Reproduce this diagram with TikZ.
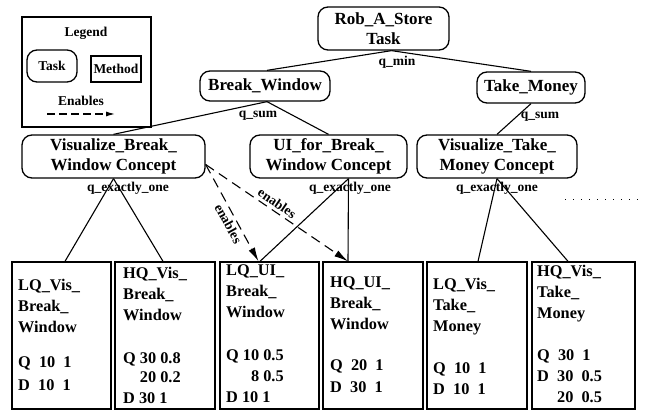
\documentclass[tikz,border=0pt]{standalone}
\usepackage{fontspec}
\setmainfont{Liberation Serif}
\usetikzlibrary{arrows.meta,calc}
\begin{document}
\begin{tikzpicture}[x=1pt,y=1pt,
  task/.style={draw, line width=1.3pt, rounded corners=10pt, align=center, inner sep=0pt,
    font=\fontsize{17}{20}\selectfont\bfseries},
  method/.style={draw, line width=1.3pt, inner sep=0pt},
  small/.style={inner sep=0pt, font=\fontsize{13.5}{15}\selectfont\bfseries},
  conn/.style={line width=1.1pt},
  enab/.style={line width=1.1pt, dash pattern=on 10pt off 6pt, -{Latex[length=14pt,width=7pt]}},
  boxtxt/.style={anchor=north west, align=left, inner sep=0pt, font=\fontsize{16.3}{21}\selectfont\bfseries}
]
\useasboundingbox (0,0) rectangle (645,-411);

% legend
\node[method, minimum width=129pt, minimum height=110pt] (legend) at (86.5,-72) {};
\node[small] (legtitle) at (86,-33) {Legend};
\node[task, font=\fontsize{13.5}{15}\selectfont\bfseries, minimum width=50pt, minimum height=32pt] (legtask) at (52,-66) {Task};
\node[method, font=\fontsize{13.5}{15}\selectfont\bfseries, minimum width=50pt, minimum height=26pt] (legmethod) at (116,-69) {Method};
\node[small] (legen) at (81,-101) {Enables};
\coordinate (la) at (47,-114);
\coordinate (lb) at (115,-114);
\draw[line width=1.1pt, dash pattern=on 8pt off 4pt, -{Latex[length=9pt,width=5pt]}] (la) -- (lb);

% tasks
\node[task, minimum width=131pt, minimum height=43pt] (rob) at (383.5,-28.5) {Rob\_A\_Store\\Task};
\node[task, minimum width=130pt, minimum height=30pt] (bw) at (265,-86) {Break\_Window};
\node[task, minimum width=108pt, minimum height=31pt] (tm) at (531,-87.5) {Take\_Money};
\node[task, minimum width=183pt, minimum height=43pt] (vbw) at (113.5,-156.5) {Visualize\_Break\_\\Window Concept};
\node[task, minimum width=157pt, minimum height=43pt] (ui) at (328.5,-156.5) {UI\_for\_Break\_\\Window Concept};
\node[task, minimum width=160pt, minimum height=43pt] (vtm) at (497,-156.5) {Visualize\_Take\_\\Money Concept};

% quality labels
\node[small] (qmin) at (397,-62) {q\_min};
\node[small] (qs1) at (258,-116) {q\_sum};
\node[small] (qs2) at (540,-117) {q\_sum};
\node[small] (qe1) at (128,-188) {q\_exactly\_one};
\node[small] (qe2) at (350,-188) {q\_exactly\_one};
\node[small] (qe3) at (497,-188) {q\_exactly\_one};

% methods
\node[method, minimum width=99pt, minimum height=147pt] (b1) at (61.5,-335.5) {};
\node[method, minimum width=100pt, minimum height=147pt] (b2) at (165,-335.5) {};
\node[method, minimum width=99pt, minimum height=147pt] (b3) at (269.5,-335.5) {};
\node[method, minimum width=100pt, minimum height=147pt] (b4) at (373,-335.5) {};
\node[method, minimum width=100pt, minimum height=147pt] (b5) at (477,-335.5) {};
\node[method, minimum width=103pt, minimum height=147pt] (b6) at (583.5,-335.5) {};

\node[boxtxt] (t1) at (18,-279) {LQ\_Vis\_\\Break\_\\Window\\[14pt]Q~~10~~1\\[2pt]D~~10~~1};
\node[boxtxt] (t2) at (123,-267) {HQ\_Vis\_\\Break\_\\Window\\[22pt]Q 30 0.8\\[-2pt]\phantom{Q }20 0.2\\D 30 1};
\node[boxtxt] (t3) at (226,-265) {LQ\_UI\_\\Break\_\\Window\\[22pt]Q 10 0.5\\\phantom{Q 1}8 0.5\\D 10 1};
\node[boxtxt] (t4) at (330,-277) {HQ\_UI\_\\Break\_\\Window\\[20pt]Q~~20~~1\\[1pt]D~~30~~1};
\node[boxtxt] (t5) at (433,-278) {LQ\_Vis\_\\Take\_\\Money\\[21pt]Q~~10~~1\\D~~10~~1};
\node[boxtxt] (t6) at (537,-265) {HQ\_Vis\_\\Take\_\\Money\\[21pt]Q~~30~~1\\D~~30~~0.5\\\phantom{D~~}20~~0.5};

% connectors
\draw[conn] ([xshift=8pt]rob.south) -- ([xshift=2pt]bw.north);
\draw[conn] ([xshift=8pt]rob.south) -- (tm.north);
\draw[conn] ([xshift=2pt]bw.south) -- (vbw.north);
\draw[conn] ([xshift=2pt]bw.south) -- (ui.north);
\draw[conn] (tm.south) -- (vtm.north);
\draw[conn] (vbw.south) -- ([xshift=3.5pt]b1.north);
\draw[conn] (vbw.south) -- ([xshift=-2pt]b2.north);
\draw[conn] ([xshift=20pt]ui.south) -- ([xshift=-9.5pt]b3.north);
\draw[conn] ([xshift=20pt]ui.south) -- ([xshift=-25pt]b4.north);
\draw[conn] (vtm.south) -- ([xshift=1pt]b5.north);
\draw[conn] (vtm.south) -- ([xshift=-15.5pt]b6.north);

% enables
\draw[enab] ([yshift=-8pt]vbw.east) -- node[sloped, pos=0.57, below=3pt, small] (en1) {enables} ([xshift=-11pt]b3.north);
\draw[enab] ([yshift=-8pt]vbw.east) -- node[sloped, pos=0.47, above=3pt, small] (en2) {enables} ([xshift=-25pt]b4.north);

% dotted continuation
\coordinate (d1) at (565,-200);
\coordinate (d2) at (645,-200);
\draw[line width=1pt, dash pattern=on 1.2pt off 6.8pt] (d1) -- (d2);
\end{tikzpicture}
\end{document}
